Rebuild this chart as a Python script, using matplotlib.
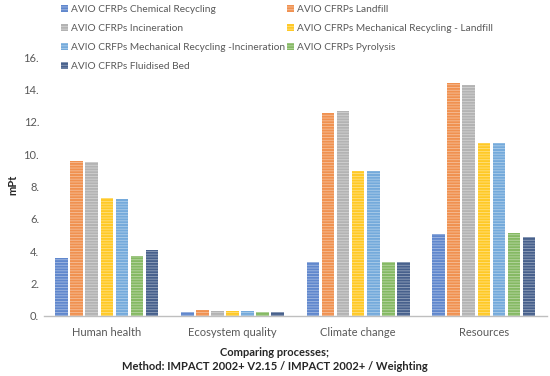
import numpy as np
import matplotlib.pyplot as plt
from matplotlib.colors import to_rgb

# Weighted impact scores (mPt) per damage category, IMPACT 2002+

categories = ["Human health", "Ecosystem quality", "Climate change", "Resources"]
series = [
    "AVIO CFRPs Chemical Recycling",
    "AVIO CFRPs Landfill",
    "AVIO CFRPs Incineration",
    "AVIO CFRPs Mechanical Recycling - Landfill",
    "AVIO CRFPs Mechanical Recycling -Incineration",
    "AVIO CFRPs Pyrolysis",
    "AVIO CFRPs Fluidised Bed",
]
chemical = [3.6, 0.22, 3.3, 5.05]
landfill = [9.6, 0.35, 12.55, 14.4]
incineration = [9.5, 0.33, 12.7, 14.3]
mech_landfill = [7.3, 0.28, 8.95, 10.7]
mech_incineration = [7.25, 0.3, 8.95, 10.7]
pyrolysis = [3.7, 0.22, 3.3, 5.1]
fluidised = [4.05, 0.22, 3.35, 4.9]
values = [chemical, landfill, incineration, mech_landfill,
          mech_incineration, pyrolysis, fluidised]
colors = ["#4472C4", "#ED7D31", "#A5A5A5", "#FFC000",
          "#5B9BD5", "#70AD47", "#264478"]
yticks = [0, 2, 4, 6, 8, 10, 12, 14, 16]


def lighter(c, f=0.35):
    r, g, b = to_rgb(c)
    return (r + (1 - r) * f, g + (1 - g) * f, b + (1 - b) * f)


def main():
    plt.rcParams['font.family'] = ['Lato', 'DejaVu Sans']
    plt.rcParams['hatch.linewidth'] = 0.6
    fig = plt.figure(figsize=(5.5, 3.76), dpi=100)
    ax = fig.add_axes([0.08, 0.16, 0.914, 0.688])

    x = np.arange(len(categories))
    step = 0.12
    width = 0.1
    handles = []
    for i, (vals, c) in enumerate(zip(values, colors)):
        pos = x + (i - 3) * step
        bars = ax.bar(pos, vals, width, facecolor=lighter(c, 0.15),
                      edgecolor=lighter(c, 0.5), linewidth=0,
                      hatch='------', label=series[i])
        handles.append(bars)

    ax.set_xlim(-0.5, 3.5)
    ax.set_ylim(0, 16)
    ax.set_yticks(yticks)
    ax.set_yticklabels([f"{t}." for t in yticks])
    ax.set_xticks(x)
    ax.set_xticklabels(categories)
    ax.tick_params(axis='both', length=0, colors='#595959', labelsize=8)
    ax.tick_params(axis='x', pad=8)
    for s in ['top', 'right', 'left']:
        ax.spines[s].set_visible(False)
    ax.spines['bottom'].set_color('#BFBFBF')
    ax.spines['bottom'].set_linewidth(1.0)

    fig.text(0.024, 0.508, "mPt", rotation=90, ha='center', va='center',
             fontsize=8, fontweight='bold', color='#262626')
    fig.text(0.5, 0.063, "Comparing processes;", ha='center', va='center',
             fontsize=8, fontweight='bold', color='#262626')
    fig.text(0.5, 0.026, "Method: IMPACT 2002+ V2.15 / IMPACT 2002+ / Weighting",
             ha='center', va='center', fontsize=8, fontweight='bold',
             color='#262626')

    order = [0, 2, 4, 6, 1, 3, 5]
    leg = fig.legend([handles[k] for k in order], [series[k] for k in order],
                     ncol=2, loc='upper left', bbox_to_anchor=(0.098, 1.006),
                     frameon=False, fontsize=7.3, handlelength=0.7,
                     handleheight=0.7, handletextpad=0.3, columnspacing=0.15,
                     labelspacing=0.98, borderpad=0.2)
    for t in leg.get_texts():
        t.set_color('#595959')

    fig.savefig("out.png", dpi=100)


if __name__ == '__main__':
    main()
